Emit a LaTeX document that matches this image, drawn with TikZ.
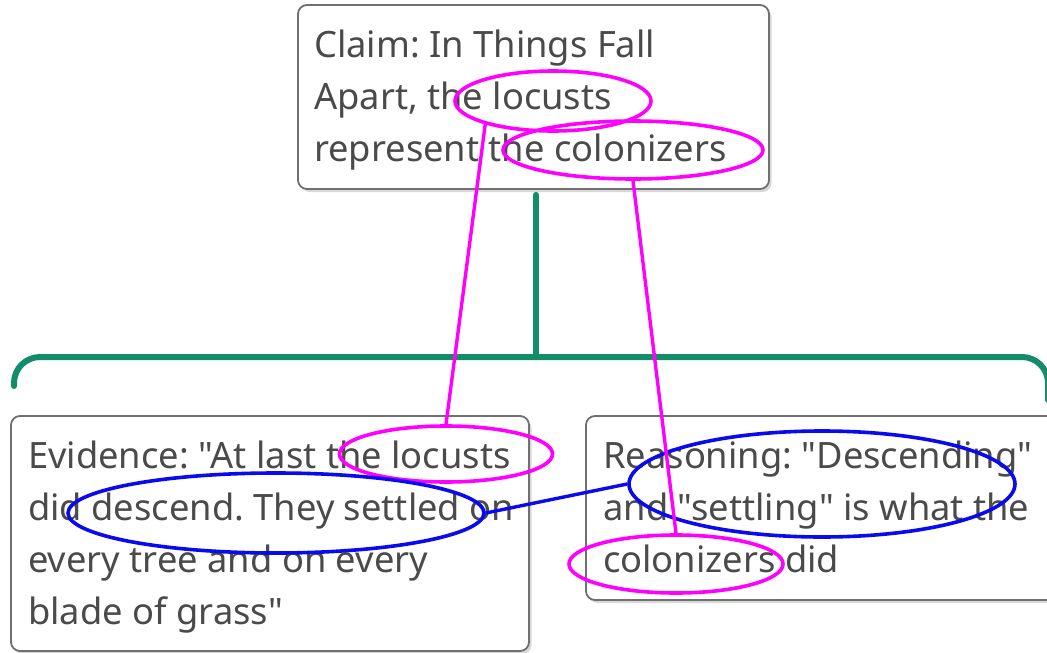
\documentclass[tikz,border=0pt]{standalone}
\usepackage{fontspec}
\setmainfont{Noto Sans}[Ligatures=TeXOff]
\frenchspacing
\usetikzlibrary{shapes.geometric,shadows}
\definecolor{txtc}{HTML}{4A4A4A}
\definecolor{bord}{HTML}{707070}
\definecolor{grn}{HTML}{128C69}
\definecolor{mag}{HTML}{FF00FF}
\definecolor{blu}{HTML}{0A0AF0}
\begin{document}
\begin{tikzpicture}[x=1pt,y=-1pt,
 box/.style={draw=bord, line width=1.8pt, rounded corners=9pt, fill=white, inner sep=0pt,
   drop shadow={shadow xshift=2.5pt, shadow yshift=-3pt, opacity=0.3}},
 txt/.style={text=txtc, font=\fontsize{36.3}{52}\selectfont\frenchspacing, align=left, inner sep=0pt, anchor=base west},
 hl/.style={draw=mag, line width=3.6pt, ellipse, inner sep=0pt},
 hb/.style={draw=blu, line width=3.6pt, ellipse, inner sep=0pt},
 maglink/.style={draw=mag, line width=3.4pt},
 blulink/.style={draw=blu, line width=3.4pt},
 bus/.style={draw=grn, line width=6pt, line cap=round}]
\useasboundingbox (0,0) rectangle (1047,653);
\fill[white] (0,0) rectangle (1047,653);

% green connector
\coordinate (j) at (536,357);
\node[box, minimum width=471pt, minimum height=184pt] (claim) at (533.5,97) {};
\draw[bus] ([xshift=2.5pt, yshift=-5pt]claim.south) -- (j);
\draw[bus, rounded corners=26pt] (14,386) -- (14,357) -- (j) -- (1048,357) -- (1048,400);

% boxes
\node[box, minimum width=518pt, minimum height=235pt] (evid) at (270,533.5) {};
\node[box, minimum width=480pt, minimum height=184pt] (reas) at (826,508) {};

% texts (anchored at the baseline of their last line)
\node[txt] (claimtxt) at (314,161) {Claim: In Things Fall\\Apart, the locusts\\represent the colonizers};
\node[txt] (evidtxt) at (28,624) {Evidence: "At last the locusts\\did descend. They settled on\\every tree and on every\\blade of grass"};
\node[txt] (reastxt) at (603,572) {Reasoning: "Descending"\\and "settling" is what the\\colonizers did};

% highlights
\node[hl, minimum width=196pt, minimum height=60pt] (e1) at (553,101) {};
\node[hl, minimum width=260pt, minimum height=58pt] (e2) at (633,150) {};
\node[hl, minimum width=213pt, minimum height=56pt] (e3) at (446,454) {};
\node[hl, minimum width=214pt, minimum height=58pt] (e4) at (676,564) {};
\node[hb, minimum width=416pt, minimum height=80pt] (e5) at (276,513) {};
\node[hb, minimum width=386pt, minimum height=106pt] (e6) at (822,484) {};

\draw[maglink] (e1.199) -- (e3.north);
\draw[maglink] (e2.south) -- (e4.north);
\draw[blulink] (e5.east) -- (e6.west);
\end{tikzpicture}
\end{document}
